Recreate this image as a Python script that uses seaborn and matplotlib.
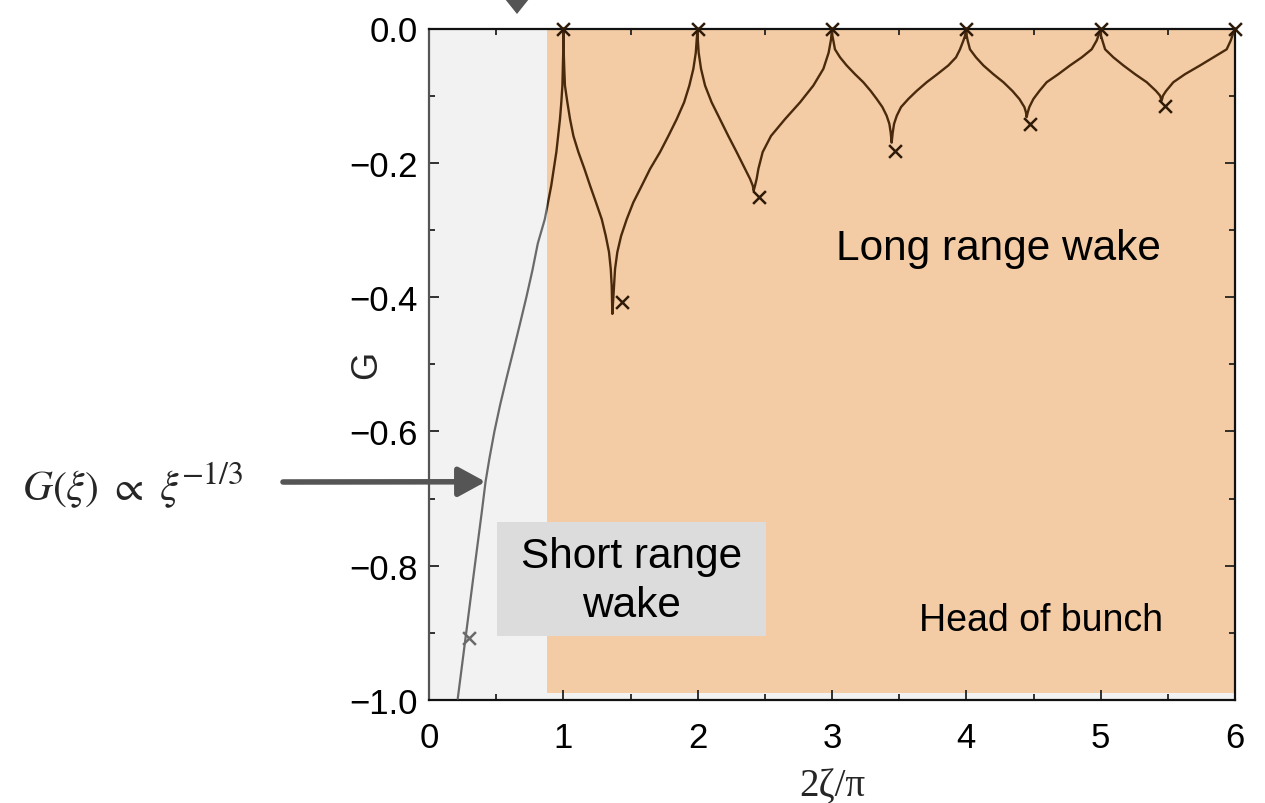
import numpy as np
import pandas as pd
import matplotlib
matplotlib.use("Agg")
import matplotlib.pyplot as plt
from matplotlib.patches import Rectangle, Polygon
from matplotlib.ticker import MultipleLocator, FuncFormatter
import seaborn as sns

# ---- data ----
curve_x = [0.214, 0.290, 0.341, 0.393, 0.421, 0.450, 0.487, 0.530, 0.578, 0.628, 0.677, 0.725, 0.770, 0.810,
           0.862, 0.910, 0.948, 0.975, 0.985, 0.993, 0.999, 1.000,
           1.003, 1.007, 1.012, 1.030, 1.050, 1.075, 1.112, 1.157, 1.199, 1.243, 1.286, 1.316, 1.340,
           1.353, 1.360, 1.363, 1.365,
           1.370, 1.377, 1.385, 1.402, 1.430, 1.472, 1.521, 1.584, 1.646, 1.720, 1.782, 1.844, 1.899,
           1.938, 1.968, 1.986, 1.993, 2.000,
           2.001, 2.0075, 2.025, 2.055, 2.104, 2.166, 2.228, 2.290, 2.352, 2.390, 2.410, 2.417,
           2.427, 2.439, 2.452, 2.484, 2.546, 2.650, 2.762, 2.861, 2.936, 2.975, 2.993, 3.000,
           3.003, 3.010, 3.022, 3.060, 3.109, 3.171, 3.233, 3.288, 3.333, 3.375, 3.407, 3.427, 3.437, 3.444,
           3.452, 3.462, 3.482, 3.514, 3.568, 3.630, 3.705, 3.784, 3.866, 3.923, 3.953, 3.978, 3.990, 4.000,
           4.003, 4.010, 4.027, 4.072, 4.127, 4.201, 4.276, 4.343, 4.395, 4.432, 4.444, 4.449,
           4.457, 4.469, 4.499, 4.544, 4.598, 4.685, 4.772, 4.859, 4.933, 4.970, 4.983, 5.000,
           5.003, 5.013, 5.033, 5.095, 5.169, 5.256, 5.343, 5.412, 5.442, 5.454,
           5.464, 5.487, 5.541, 5.628, 5.740, 5.839, 5.938, 5.968, 5.980, 6.000]
curve_y = [-0.998, -0.879, -0.800, -0.720, -0.675, -0.640, -0.600, -0.560, -0.520, -0.480, -0.440, -0.400, -0.360, -0.320,
           -0.284, -0.234, -0.184, -0.135, -0.110, -0.085, -0.036, 0.000,
           -0.036, -0.060, -0.085, -0.110, -0.135, -0.160, -0.184, -0.209, -0.234, -0.259, -0.284, -0.309, -0.333,
           -0.358, -0.383, -0.408, -0.425,
           -0.408, -0.383, -0.358, -0.333, -0.309, -0.284, -0.259, -0.234, -0.209, -0.184, -0.160, -0.135, -0.110,
           -0.085, -0.060, -0.036, -0.016, 0.000,
           -0.016, -0.036, -0.060, -0.085, -0.110, -0.135, -0.160, -0.184, -0.209, -0.224, -0.234, -0.2415,
           -0.234, -0.224, -0.209, -0.184, -0.160, -0.135, -0.110, -0.085, -0.060, -0.036, -0.016, 0.000,
           -0.011, -0.018, -0.031, -0.043, -0.055, -0.068, -0.080, -0.093, -0.105, -0.117, -0.130, -0.142, -0.155, -0.170,
           -0.155, -0.142, -0.130, -0.117, -0.105, -0.093, -0.080, -0.068, -0.055, -0.043, -0.031, -0.018, -0.011, 0.000,
           -0.011, -0.018, -0.031, -0.043, -0.055, -0.068, -0.080, -0.093, -0.105, -0.117, -0.125, -0.132,
           -0.125, -0.117, -0.105, -0.093, -0.080, -0.068, -0.055, -0.043, -0.031, -0.018, -0.011, 0.000,
           -0.011, -0.018, -0.031, -0.043, -0.055, -0.068, -0.080, -0.093, -0.100, -0.1075,
           -0.100, -0.093, -0.080, -0.068, -0.055, -0.043, -0.031, -0.018, -0.011, 0.000]

marker_x = [0.300, 1.0, 1.435, 2.0, 2.459, 3.0, 3.470, 4.0, 4.475, 5.0, 5.480, 6.0]
marker_y = [-0.907, 0.0, -0.407, 0.0, -0.251, 0.0, -0.182, 0.0, -0.142, 0.0, -0.116, 0.0]

short_range_end = 0.88          # boundary between short and long range regions
x_ticks = [0, 1, 2, 3, 4, 5, 6]
y_ticks = [-1.0, -0.8, -0.6, -0.4, -0.2, 0.0]

# ---- style ----
sns.set_theme(style="ticks")
plt.rcParams['font.family'] = ['Liberation Sans', 'DejaVu Sans']
plt.rcParams['mathtext.fontset'] = 'stix'

W, H = 1265, 804
fig = plt.figure(figsize=(W / 100, H / 100), dpi=100)
ax = fig.add_axes([429 / W, 1 - 701 / H, (1235 - 429) / W, (701 - 29.5) / H])

ax.set_xlim(0, 6)
ax.set_ylim(-1.0, 0.0)
ax.set_facecolor('#f2f2f2')

brown = '#4a2a0c'
grey_line = '#6a6a6a'

# regions
ax.add_patch(Rectangle((short_range_end, -0.99), 5.99 - short_range_end, 0.99,
                       facecolor='#f3cca6', edgecolor='none', zorder=0.5))

df = pd.DataFrame({'x': curve_x, 'y': curve_y})
sns.lineplot(data=df, x='x', y='y', sort=False, estimator=None, color=brown, lw=1.7, ax=ax, zorder=3)
l1 = ax.lines[-1]
l1.set_clip_path(Rectangle((short_range_end, -1.1), 6, 1.2, transform=ax.transData))
sns.lineplot(data=df, x='x', y='y', sort=False, estimator=None, color=grey_line, lw=1.6, ax=ax, zorder=3)
l2 = ax.lines[-1]
l2.set_clip_path(Rectangle((-1, -1.1), 1 + short_range_end, 1.2, transform=ax.transData))
for ln in (l1, l2):
    ln.set_solid_joinstyle('round')
    ln.set_solid_capstyle('round')

mdf = pd.DataFrame({'x': marker_x, 'y': marker_y})
mdf['region'] = np.where(mdf['x'] < short_range_end, 'short', 'long')
sns.scatterplot(data=mdf[mdf.region == 'long'], x='x', y='y', marker='x', s=85, color='#2e1a08',
                linewidth=1.8, ax=ax, zorder=4, clip_on=False)
sns.scatterplot(data=mdf[mdf.region == 'short'], x='x', y='y', marker='x', s=85, color=grey_line,
                linewidth=1.8, ax=ax, zorder=4, clip_on=False)

# short range box
ax.add_patch(Rectangle((0.506, -0.905), 2.003, 0.170, facecolor='#dcdcdc', edgecolor='none', zorder=5))
ax.text(1.507, -0.8024, 'Short range', ha='center', va='baseline', fontsize=30.5, color='black', zorder=6)
ax.text(1.507, -0.8744, 'wake', ha='center', va='baseline', fontsize=30.5, color='black', zorder=6)
ax.text(3.03, -0.343, 'Long range wake', ha='left', va='baseline', fontsize=30.5, color='black', zorder=6)
ax.text(5.465, -0.896, 'Head of bunch', ha='right', va='baseline', fontsize=27, color='black', zorder=6)

# axes styling
ax.xaxis.set_minor_locator(MultipleLocator(0.5))
ax.yaxis.set_minor_locator(MultipleLocator(0.1))
ax.set_xticks(x_ticks)
ax.set_yticks(y_ticks)
ax.yaxis.set_major_formatter(FuncFormatter(lambda v, p: f'{v:.1f}'.replace('-', '\u2212')))
ax.tick_params(which='both', direction='in', top=True, right=True, colors='#222222', width=1.3)
ax.tick_params(which='major', length=7)
ax.tick_params(which='minor', length=4)
ax.tick_params(axis='x', which='major', pad=15, labelsize=25)
ax.tick_params(axis='y', which='major', pad=8, labelsize=25)
for lab in ax.get_xticklabels() + ax.get_yticklabels():
    lab.set_color('black')
for s in ['top', 'right', 'bottom']:
    ax.spines[s].set_color('#111111')
    ax.spines[s].set_linewidth(1.6)
ax.spines['left'].set_color('#555555')
ax.spines['left'].set_linewidth(1.6)

ax.set_xlabel('2ζ/π', fontsize=28, family=['Liberation Serif', 'DejaVu Serif'], labelpad=10)
ax.set_ylabel('G', fontsize=26)
ax.yaxis.set_label_coords((384 - 429) / (1235 - 429), 0.5)

# annotations outside the axes
fig.text(22 / W, 1 - 500 / H, r'$G(\xi)\ \propto\ \xi$', fontsize=30, ha='left', va='baseline')
fig.text(181 / W, 1 - 484 / H, r'$-1/3$', fontsize=23, ha='left', va='baseline')
ax.annotate('', xy=(0.421, -0.675), xycoords='data',
            xytext=(283, H - 483), textcoords='figure pixels',
            arrowprops=dict(arrowstyle='-|>,head_length=0.55,head_width=0.3', lw=4, color='#555555',
                            shrinkA=0, shrinkB=0, mutation_scale=30),
            annotation_clip=False, zorder=7)
fig.patches.append(Polygon([(505 / W, 1.0), (529 / W, 1.0), (517 / W, 1 - 15 / H)], closed=True,
                           transform=fig.transFigure, facecolor='#555555', edgecolor='none'))

fig.savefig('out.png', dpi=100)
